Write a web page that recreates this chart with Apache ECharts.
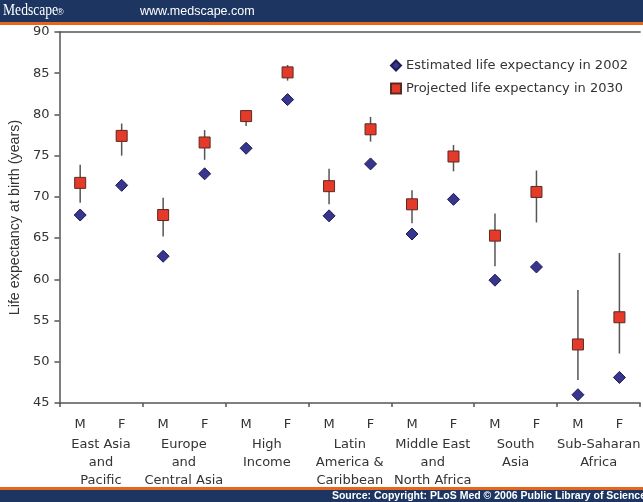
<!DOCTYPE html>
<html>
<head>
<meta charset="utf-8">
<title>Life expectancy at birth, 2002 and 2030</title>
<script src="https://cdn.jsdelivr.net/npm/echarts@6/dist/echarts.min.js"></script>
<style>
  html, body { margin: 0; padding: 0; background: #fff; }
  #chart { width: 643px; height: 502px; }
</style>
</head>
<body>
<div id="chart"></div>
<script>
// Regions (each has a male and a female column)
var regions = [
  'East Asia\nand\nPacific',
  'Europe\nand\nCentral Asia',
  'High\nIncome',
  'Latin\nAmerica &\nCaribbean',
  'Middle East\nand\nNorth Africa',
  'South\nAsia',
  'Sub-Saharan\nAfrica'
];
var sexes = ['M', 'F'];

// Life expectancy at birth (years), ordered M, F per region
var estimated2002 = [67.8, 71.4, 62.8, 72.8, 75.9, 81.8, 67.7, 74.0, 65.5, 69.7, 59.9, 61.5, 46.0, 48.1];
var projected2030 = [71.7, 77.4, 67.8, 76.6, 79.8, 85.1, 71.3, 78.2, 69.1, 74.9, 65.3, 70.6, 52.1, 55.4];
var projectedLow  = [69.3, 75.0, 65.2, 74.5, 78.6, 84.1, 69.1, 76.7, 66.8, 73.1, 61.6, 66.9, 47.8, 51.0];
var projectedHigh = [73.9, 78.9, 69.9, 78.1, 80.5, 86.0, 73.4, 79.7, 70.8, 76.3, 68.0, 73.2, 58.7, 63.2];

var yTicks = { min: 45, max: 90, step: 5 };

// One category per region/sex column
var columns = [];
regions.forEach(function () { sexes.forEach(function (s) { columns.push(s); }); });

var rangeData = projectedLow.map(function (lo, i) { return [i, lo, projectedHigh[i]]; });

var NAVY = '#1c3561';
var ORANGE = '#e8651d';
var AXIS = '#555';
var TEXT = '#333';
var FONT = '"DejaVu Sans", Verdana, sans-serif';

var chart = echarts.init(document.getElementById('chart'), null, { renderer: 'canvas' });

chart.setOption({
  animation: false,
  backgroundColor: '#ffffff',
  textStyle: { fontFamily: FONT },
  grid: { left: 59, top: 32, width: 586, height: 371 },
  legend: {
    orient: 'vertical',
    left: 390, top: 59, padding: 0,
    itemWidth: 10, itemHeight: 10, itemGap: 10,
    textStyle: { fontSize: 13, color: TEXT, fontFamily: FONT },
    data: [
      { name: 'Estimated life expectancy in 2002', icon: 'diamond' },
      { name: 'Projected life expectancy in 2030', icon: 'rect' }
    ]
  },
  xAxis: [
    {
      type: 'category',
      data: columns,
      boundaryGap: true,
      axisLine: { show: true, lineStyle: { color: AXIS, width: 1.5 } },
      axisTick: { show: false },
      axisLabel: { fontSize: 13, color: TEXT, margin: 15 }
    },
    {
      type: 'category',
      data: regions,
      position: 'bottom',
      boundaryGap: true,
      axisLine: { show: false },
      axisTick: { show: true, length: 4, lineStyle: { color: AXIS, width: 1.5 } },
      axisLabel: { fontSize: 13, color: TEXT, margin: 33, lineHeight: 18, interval: 0 }
    },
    {
      // top frame line of the plot area
      type: 'category',
      data: columns,
      position: 'top',
      axisLine: { show: true, lineStyle: { color: AXIS, width: 1.5 } },
      axisTick: { show: false },
      axisLabel: { show: false }
    }
  ],
  yAxis: {
    type: 'value',
    min: yTicks.min, max: yTicks.max, interval: yTicks.step,
    name: 'Life expectancy at birth (years)',
    nameLocation: 'middle',
    nameGap: 33,
    nameRotate: 90,
    nameTextStyle: { fontSize: 14.3, color: TEXT, fontFamily: 'Liberation Sans, Arial, sans-serif' },
    axisLine: { show: true, lineStyle: { color: AXIS, width: 1.5 } },
    axisTick: { show: true, length: 5, lineStyle: { color: AXIS, width: 1.5 } },
    axisLabel: { fontSize: 13, color: TEXT, margin: 10 },
    splitLine: { show: false }
  },
  series: [
    {
      name: 'range2030',
      type: 'custom',
      xAxisIndex: 0,
      z: 1,
      renderItem: function (params, api) {
        var top = api.coord([api.value(0), api.value(2)]);
        var bottom = api.coord([api.value(0), api.value(1)]);
        return {
          type: 'line',
          shape: { x1: top[0], y1: top[1], x2: bottom[0], y2: bottom[1] },
          style: { stroke: '#555', lineWidth: 1.5 }
        };
      },
      data: rangeData,
      silent: true
    },
    {
      name: 'Estimated life expectancy in 2002',
      type: 'scatter',
      xAxisIndex: 0,
      symbol: 'diamond',
      symbolSize: 12,
      z: 3,
      itemStyle: { color: '#38358f', borderColor: '#1e1c50', borderWidth: 1, opacity: 1 },
      data: estimated2002.map(function (v, i) { return [i, v]; })
    },
    {
      name: 'Projected life expectancy in 2030',
      type: 'scatter',
      xAxisIndex: 0,
      symbol: 'rect',
      symbolSize: 11,
      z: 3,
      itemStyle: { color: '#e5392a', borderColor: '#5a2a22', borderWidth: 1, opacity: 1 },
      data: projected2030.map(function (v, i) { return [i, v]; })
    }
  ],
  graphic: [
    { type: 'rect', left: 0, top: 0, shape: { width: 643, height: 22 }, style: { fill: NAVY }, silent: true },
    { type: 'rect', left: 0, top: 22, shape: { width: 643, height: 3 }, style: { fill: ORANGE }, silent: true },
    { type: 'text', x: 3, y: 3, scaleX: 0.85, style: { text: 'Medscape', fill: '#fff', font: '16px "Liberation Serif", serif' } },
    { type: 'text', left: 57, top: 8, style: { text: '®', fill: '#fff', font: '9px "Liberation Sans", sans-serif' } },
    { type: 'text', left: 140, top: 5, style: { text: 'www.medscape.com', fill: '#fff', font: '12.5px "Liberation Sans", sans-serif' } },
    { type: 'rect', left: 0, top: 487, shape: { width: 643, height: 3 }, style: { fill: ORANGE }, silent: true },
    { type: 'rect', left: 0, top: 490, shape: { width: 643, height: 12 }, style: { fill: NAVY }, silent: true },
    { type: 'text', right: -3, top: 491, style: { text: 'Source: Copyright: PLoS Med \u00a9 2006 Public Library of Science', fill: '#fff', font: 'bold 10.5px "Liberation Sans", sans-serif' } }
  ]
});
</script>
</body>
</html>
